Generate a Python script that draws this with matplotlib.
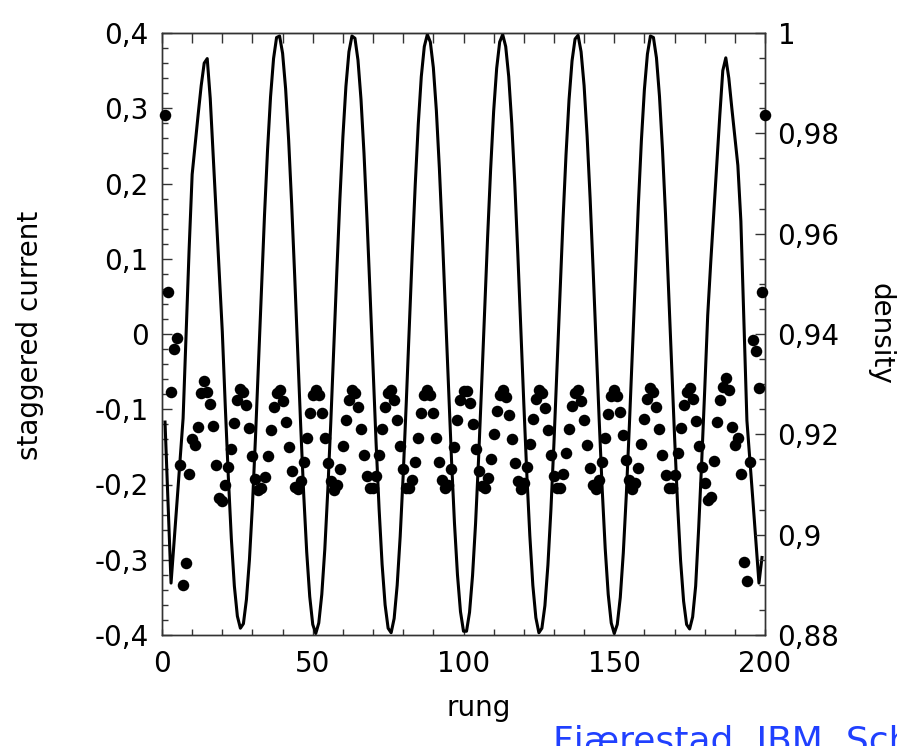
import matplotlib
matplotlib.use("Agg")
import matplotlib.pyplot as plt
from matplotlib.ticker import MultipleLocator

plt.rcParams['font.family'] = ['DejaVu Sans']

# ---- data ----
rung_line = list(range(1, 200))
current = [
    -0.117, -0.224, -0.331, -0.277, -0.222, -0.167, -0.112, 0.000, 0.113, 0.212,
    0.252, 0.292, 0.330, 0.360, 0.366, 0.313, 0.236, 0.158, 0.081, 0.003,
    -0.097, -0.190, -0.272, -0.335, -0.375, -0.391, -0.385, -0.353, -0.300, -0.227,
    -0.138, -0.040, 0.061, 0.158, 0.244, 0.315, 0.366, 0.394, 0.396, 0.373,
    0.326, 0.258, 0.173, 0.078, -0.022, -0.122, -0.213, -0.290, -0.349, -0.386,
    -0.398, -0.384, -0.346, -0.286, -0.207, -0.116, -0.016, 0.084, 0.179, 0.262,
    0.329, 0.375, 0.396, 0.393, 0.364, 0.312, 0.240, 0.152, 0.055, -0.046,
    -0.144, -0.232, -0.306, -0.360, -0.391, -0.397, -0.378, -0.334, -0.269, -0.187,
    -0.093, 0.007, 0.107, 0.199, 0.279, 0.342, 0.382, 0.398, 0.388, 0.354,
    0.297, 0.220, 0.130, 0.032, -0.069, -0.165, -0.251, -0.320, -0.369, -0.395,
    -0.395, -0.370, -0.321, -0.252, -0.166, -0.070, 0.030, 0.129, 0.219, 0.296,
    0.353, 0.388, 0.398, 0.382, 0.342, 0.280, 0.201, 0.108, 0.008, -0.092,
    -0.186, -0.268, -0.334, -0.377, -0.397, -0.391, -0.361, -0.307, -0.233, -0.145,
    -0.047, 0.054, 0.151, 0.238, 0.311, 0.363, 0.392, 0.397, 0.375, 0.330,
    0.263, 0.180, 0.085, -0.015, -0.114, -0.206, -0.285, -0.346, -0.384, -0.398,
    -0.386, -0.350, -0.291, -0.214, -0.123, -0.024, 0.077, 0.172, 0.257, 0.325,
    0.372, 0.396, 0.394, 0.367, 0.316, 0.245, 0.159, 0.062, -0.038, -0.136,
    -0.226, -0.301, -0.355, -0.386, -0.392, -0.376, -0.335, -0.258, -0.170, -0.075,
    0.025, 0.095, 0.160, 0.225, 0.290, 0.350, 0.367, 0.340, 0.300, 0.262,
    0.224, 0.150, 0.016, -0.115, -0.168, -0.222, -0.276, -0.331, -0.297,
]

rung_dots = list(range(1, 201))
density = [
    0.9837, 0.9483, 0.9285, 0.9370, 0.9393, 0.9138, 0.8900, 0.8943, 0.9120, 0.9190,
    0.9178, 0.9214, 0.9283, 0.9307, 0.9285, 0.9260, 0.9216, 0.9138, 0.9073, 0.9067,
    0.9100, 0.9135, 0.9170, 0.9222, 0.9268, 0.9290, 0.9285, 0.9259, 0.9213, 0.9156,
    0.9110, 0.9090, 0.9093, 0.9115, 0.9157, 0.9208, 0.9255, 0.9283, 0.9289, 0.9267,
    0.9225, 0.9175, 0.9127, 0.9096, 0.9091, 0.9106, 0.9144, 0.9192, 0.9243, 0.9279,
    0.9289, 0.9279, 0.9243, 0.9192, 0.9142, 0.9106, 0.9090, 0.9100, 0.9130, 0.9177,
    0.9228, 0.9268, 0.9288, 0.9283, 0.9255, 0.9210, 0.9159, 0.9117, 0.9094, 0.9094,
    0.9117, 0.9159, 0.9210, 0.9255, 0.9283, 0.9289, 0.9268, 0.9228, 0.9177, 0.9130,
    0.9093, 0.9093, 0.9108, 0.9145, 0.9193, 0.9243, 0.9279, 0.9289, 0.9279, 0.9243,
    0.9193, 0.9145, 0.9109, 0.9093, 0.9100, 0.9130, 0.9175, 0.9228, 0.9268, 0.9286,
    0.9286, 0.9262, 0.9220, 0.9170, 0.9126, 0.9097, 0.9093, 0.9112, 0.9151, 0.9200,
    0.9247, 0.9279, 0.9289, 0.9274, 0.9238, 0.9190, 0.9142, 0.9106, 0.9091, 0.9102,
    0.9135, 0.9181, 0.9231, 0.9270, 0.9288, 0.9283, 0.9253, 0.9208, 0.9159, 0.9117,
    0.9094, 0.9094, 0.9120, 0.9162, 0.9211, 0.9256, 0.9283, 0.9288, 0.9267, 0.9228,
    0.9178, 0.9132, 0.9100, 0.9091, 0.9108, 0.9144, 0.9193, 0.9241, 0.9276, 0.9289,
    0.9277, 0.9244, 0.9198, 0.9148, 0.9108, 0.9091, 0.9102, 0.9133, 0.9180, 0.9230,
    0.9271, 0.9292, 0.9285, 0.9255, 0.9210, 0.9159, 0.9118, 0.9094, 0.9093, 0.9118,
    0.9162, 0.9213, 0.9259, 0.9285, 0.9292, 0.9270, 0.9226, 0.9177, 0.9135, 0.9102,
    0.9070, 0.9076, 0.9147, 0.9225, 0.9268, 0.9295, 0.9312, 0.9288, 0.9214, 0.9179,
    0.9192, 0.9121, 0.8946, 0.8907, 0.9144, 0.9388, 0.9367, 0.9292, 0.9483, 0.9837,
]

x_ticks = [0, 50, 100, 150, 200]
x_tick_labels = ["0", "50", "100", "150", "200"]
cur_ticks = [-0.4, -0.3, -0.2, -0.1, 0.0, 0.1, 0.2, 0.3, 0.4]
cur_tick_labels = ["-0,4", "-0,3", "-0,2", "-0,1", "0", "0,1", "0,2", "0,3", "0,4"]
den_ticks = [0.88, 0.90, 0.92, 0.94, 0.96, 0.98, 1.00]
den_tick_labels = ["0,88", "0,9", "0,92", "0,94", "0,96", "0,98", "1"]

# ---- figure ----
W, H = 897, 746
fig = plt.figure(figsize=(W / 100, H / 100), dpi=100)
L, R, T, B = 162, 765, 33, 635
ax = fig.add_axes([L / W, 1 - B / H, (R - L) / W, (B - T) / H])

spine_col = '#333333'
ax.plot(rung_line, current, color='black', lw=2.2, zorder=3)
ax.set_xlim(0, 200)
ax.set_ylim(-0.4, 0.4)
ax.set_xticks(x_ticks)
ax.set_xticklabels(x_tick_labels)
ax.set_yticks(cur_ticks)
ax.set_yticklabels(cur_tick_labels)
ax.xaxis.set_minor_locator(MultipleLocator(10))
ax.yaxis.set_minor_locator(MultipleLocator(0.02))
ax.tick_params(axis='x', which='both', direction='in', length=4.5, width=1,
               color=spine_col, top=False, bottom=True, labelsize=20, pad=10.5)
ax.tick_params(axis='y', which='major', direction='in', length=7.5, width=1,
               color=spine_col, left=True, right=False, labelsize=20, pad=9.5)
ax.tick_params(axis='y', which='minor', direction='in', length=4.5, width=1,
               color=spine_col, left=True, right=False)
for s in ax.spines.values():
    s.set_color(spine_col)
    s.set_linewidth(1.0)

top = ax.secondary_xaxis('top')
top.set_xticks(list(range(0, 201, 10)))
top.tick_params(direction='in', length=7.5, width=1, color=spine_col, labeltop=False)
top.spines['top'].set_color(spine_col)

ax2 = ax.twinx()
ax2.plot(rung_dots, density, 'o', color='black', ms=8.3, mew=0, clip_on=False, zorder=4)
ax2.set_ylim(0.88, 1.0)
ax2.set_yticks(den_ticks)
ax2.set_yticklabels(den_tick_labels)
ax2.yaxis.set_minor_locator(MultipleLocator(0.005))
ax2.tick_params(axis='y', which='major', direction='in', length=7.5, width=1,
                color=spine_col, right=True, labelsize=20, pad=9)
ax2.tick_params(axis='y', which='minor', direction='in', length=4.5, width=1,
                color=spine_col, right=True)
for s in ax2.spines.values():
    s.set_color(spine_col)
    s.set_linewidth(1.0)

fig.text(30 / W, 1 - 335 / H, "staggered current", rotation=90,
         ha='center', va='center', fontsize=20)
fig.text(880 / W, 1 - 334 / H, "density", rotation=-90,
         ha='center', va='center', fontsize=20)
fig.text(479 / W, 1 - 716 / H, "rung", ha='center', va='baseline', fontsize=20)
fig.text(553 / W, 1 - 752 / H, "Fjærestad, JBM, Schollwöck", color='#2040ff',
         fontsize=26, ha='left', va='baseline')

fig.savefig("out.png", dpi=100)
